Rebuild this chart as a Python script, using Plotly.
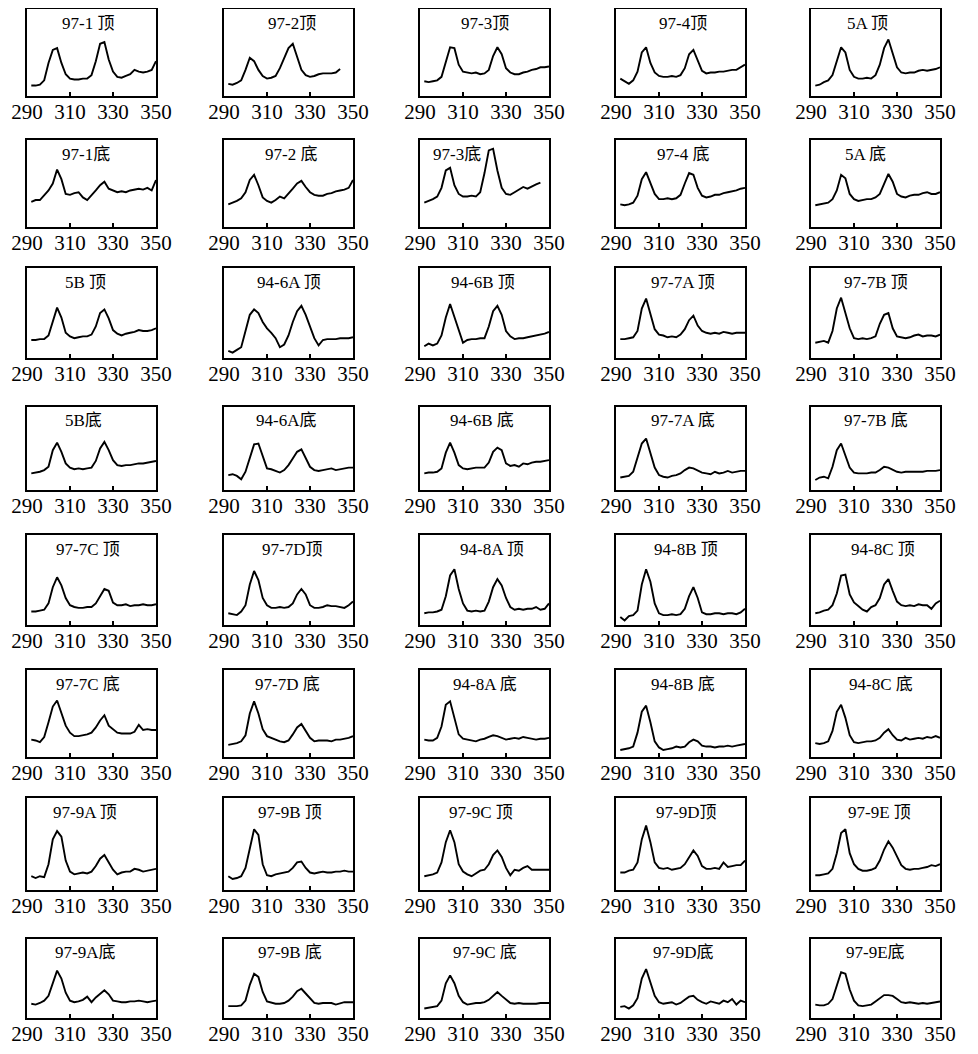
import plotly.graph_objects as go

# ---------------- data ----------------
X = [292, 294, 296, 298, 300, 302, 304, 306, 308, 310, 312, 314, 316, 318, 320,
     322, 324, 326, 328, 330, 332, 334, 336, 338, 340, 342, 344, 346, 348, 350]
X_TICKS = [290, 310, 330, 350]

LABELS = [
    "97-1 顶", "97-2顶", "97-3顶", "97-4顶", "5A 顶",
    "97-1底", "97-2 底", "97-3底", "97-4 底", "5A 底",
    "5B 顶", "94-6A 顶", "94-6B 顶", "97-7A 顶", "97-7B 顶",
    "5B底", "94-6A底", "94-6B 底", "97-7A 底", "97-7B 底",
    "97-7C 顶", "97-7D顶", "94-8A 顶", "94-8B 顶", "94-8C 顶",
    "97-7C 底", "97-7D 底", "94-8A 底", "94-8B 底", "94-8C 底",
    "97-9A 顶", "97-9B 顶", "97-9C 顶", "97-9D顶", "97-9E 顶",
    "97-9A底", "97-9B 底", "97-9C 底", "97-9D底", "97-9E底",
]

y_97_1_top = [12, 12, 13, 18, 38, 53, 55, 38, 25, 20, 19, 19, 20, 20, 24, 40, 60, 62, 42, 28, 22, 21, 23, 25, 30, 28, 27, 28, 30, 40]
y_97_2_top = [14, 13, 15, 18, 30, 44, 40, 30, 23, 20, 21, 23, 32, 44, 55, 60, 45, 30, 24, 22, 23, 25, 26, 26, 26, 27, 31, None, None, None]
y_97_3_top = [17, 16, 17, 18, 22, 40, 56, 55, 36, 28, 27, 26, 27, 25, 26, 30, 46, 56, 48, 32, 27, 25, 25, 27, 28, 30, 31, 33, 33, 34]
y_97_4_top = [20, 17, 14, 18, 28, 50, 56, 38, 27, 23, 22, 22, 23, 22, 24, 32, 48, 53, 40, 29, 26, 27, 27, 28, 28, 29, 30, 30, 33, 36]
y_5a_top = [12, 13, 16, 18, 24, 40, 56, 50, 30, 22, 20, 20, 21, 20, 24, 36, 55, 65, 48, 33, 27, 26, 27, 27, 29, 30, 29, 30, 31, 33]

y_97_1_bot = [29, 31, 31, 36, 42, 50, 66, 55, 38, 37, 39, 40, 34, 31, 36, 42, 48, 52, 44, 42, 40, 41, 40, 42, 43, 44, 43, 45, 42, 54]
y_97_2_bot = [26, 28, 30, 33, 40, 54, 60, 48, 34, 30, 28, 31, 35, 33, 38, 44, 50, 53, 46, 40, 37, 36, 36, 38, 39, 41, 42, 43, 45, 54]
y_97_3_bot = [28, 30, 32, 35, 45, 65, 68, 48, 38, 35, 35, 36, 35, 40, 62, 88, 90, 65, 45, 38, 37, 40, 43, 46, 44, 47, 49, 51, None, None]
y_97_4_bot = [26, 25, 26, 28, 36, 55, 63, 50, 38, 32, 32, 33, 32, 33, 37, 50, 62, 60, 45, 36, 34, 35, 37, 37, 39, 40, 41, 42, 44, 45]
y_5a_bot = [25, 26, 27, 28, 32, 42, 60, 56, 38, 32, 30, 31, 32, 32, 34, 38, 50, 61, 52, 38, 35, 34, 36, 37, 37, 39, 40, 38, 38, 40]

y_5b_top = [20, 20, 21, 21, 25, 42, 56, 45, 28, 24, 22, 23, 24, 24, 26, 35, 50, 54, 44, 31, 27, 25, 27, 28, 29, 31, 30, 30, 31, 33]
y_94_6a_top = [8, 6, 9, 12, 30, 48, 54, 50, 40, 33, 28, 22, 12, 15, 25, 40, 52, 58, 48, 36, 22, 14, 20, 21, 21, 21, 22, 22, 22, 23]
y_94_6b_top = [13, 16, 14, 16, 25, 45, 60, 45, 30, 17, 20, 21, 21, 22, 22, 35, 52, 58, 48, 30, 24, 21, 22, 22, 23, 24, 25, 26, 27, 29]
y_97_7a_top = [21, 21, 22, 23, 30, 55, 66, 48, 32, 26, 25, 23, 24, 23, 26, 32, 42, 47, 36, 30, 28, 27, 28, 27, 29, 28, 27, 28, 28, 28]
y_97_7b_top = [17, 18, 19, 17, 30, 55, 67, 50, 33, 22, 21, 22, 21, 22, 24, 38, 48, 50, 33, 24, 23, 22, 23, 25, 26, 24, 25, 25, 24, 26]

y_5b_bot = [20, 21, 22, 24, 28, 48, 57, 46, 32, 27, 25, 26, 25, 26, 27, 35, 50, 58, 48, 36, 30, 29, 30, 30, 31, 32, 32, 33, 34, 35]
y_94_6a_bot = [18, 19, 17, 13, 22, 38, 55, 56, 40, 26, 25, 23, 21, 24, 30, 38, 46, 49, 38, 28, 24, 23, 24, 25, 26, 24, 25, 26, 27, 27]
y_94_6b_bot = [20, 21, 21, 22, 26, 45, 57, 45, 30, 26, 25, 26, 27, 27, 27, 33, 46, 51, 48, 32, 29, 30, 28, 32, 31, 33, 34, 34, 35, 36]
y_97_7a_bot = [15, 16, 17, 22, 38, 56, 62, 45, 27, 18, 16, 15, 17, 18, 20, 24, 27, 26, 23, 21, 20, 19, 22, 20, 21, 23, 21, 22, 23, 23]
y_97_7b_bot = [12, 15, 16, 14, 28, 48, 56, 42, 27, 21, 20, 20, 20, 21, 21, 24, 28, 27, 24, 22, 21, 22, 22, 22, 22, 22, 23, 23, 23, 24]

y_97_7c_top = [15, 15, 16, 17, 24, 42, 53, 44, 30, 22, 20, 19, 19, 20, 20, 24, 32, 40, 38, 25, 22, 22, 23, 21, 22, 22, 23, 22, 22, 23]
y_97_7d_top = [13, 12, 11, 15, 22, 45, 60, 50, 30, 22, 19, 19, 20, 19, 20, 24, 34, 40, 34, 22, 19, 19, 20, 22, 21, 21, 20, 19, 22, 26]
y_94_8a_top = [13, 14, 14, 15, 17, 32, 55, 62, 40, 24, 16, 15, 16, 15, 16, 26, 42, 51, 44, 30, 20, 17, 18, 17, 18, 18, 20, 17, 18, 24]
y_94_8b_top = [9, 5, 10, 11, 16, 45, 62, 48, 24, 13, 11, 11, 12, 11, 12, 18, 32, 42, 30, 14, 12, 12, 13, 13, 12, 13, 13, 12, 14, 18]
y_94_8c_top = [13, 14, 16, 17, 22, 35, 55, 56, 34, 25, 21, 17, 15, 20, 22, 30, 45, 51, 38, 26, 22, 21, 22, 21, 23, 22, 22, 18, 24, 27]

y_97_7c_bot = [20, 19, 17, 23, 40, 58, 65, 50, 36, 28, 24, 24, 25, 26, 28, 34, 42, 48, 36, 32, 28, 27, 27, 27, 29, 37, 31, 32, 31, 31]
y_97_7d_bot = [14, 15, 16, 18, 25, 50, 64, 50, 32, 24, 22, 20, 18, 17, 19, 26, 34, 38, 30, 22, 18, 19, 19, 19, 18, 20, 20, 21, 22, 24]
y_94_8a_bot = [20, 19, 19, 22, 35, 60, 64, 45, 26, 21, 20, 19, 18, 20, 21, 23, 25, 24, 22, 20, 21, 22, 21, 23, 22, 21, 20, 21, 21, 22]
y_94_8b_bot = [8, 9, 10, 12, 28, 52, 59, 40, 18, 11, 8, 9, 10, 12, 11, 12, 17, 20, 18, 13, 12, 12, 11, 12, 12, 13, 12, 13, 14, 15]
y_94_8c_bot = [16, 15, 16, 18, 30, 52, 60, 45, 25, 17, 16, 17, 18, 18, 19, 22, 28, 32, 25, 20, 19, 22, 20, 21, 22, 21, 23, 22, 24, 22]

y_97_9a_top = [15, 13, 15, 14, 28, 55, 64, 58, 32, 20, 17, 18, 19, 18, 20, 26, 34, 38, 30, 22, 17, 19, 20, 20, 23, 22, 20, 21, 22, 23]
y_97_9b_top = [15, 12, 13, 15, 24, 45, 66, 60, 28, 16, 15, 17, 18, 19, 20, 24, 30, 31, 24, 19, 18, 19, 20, 19, 19, 20, 20, 21, 20, 20]
y_97_9c_top = [15, 16, 17, 19, 30, 52, 65, 52, 28, 20, 17, 15, 18, 21, 22, 28, 38, 43, 36, 24, 16, 22, 21, 24, 26, 22, 22, 22, 22, 22]
y_97_9d_top = [19, 19, 21, 22, 30, 55, 70, 52, 30, 24, 23, 24, 22, 23, 24, 28, 36, 43, 37, 26, 23, 23, 24, 23, 30, 25, 26, 27, 27, 32]
y_97_9e_top = [16, 16, 17, 18, 23, 40, 62, 66, 40, 28, 23, 21, 21, 22, 24, 32, 44, 53, 46, 36, 27, 23, 22, 23, 23, 24, 25, 27, 26, 28]

y_97_9a_bot = [18, 17, 19, 22, 28, 45, 60, 50, 32, 22, 20, 21, 23, 27, 20, 26, 30, 35, 30, 22, 21, 20, 20, 21, 21, 22, 21, 20, 21, 22]
y_97_9b_bot = [15, 15, 15, 16, 22, 42, 56, 52, 33, 21, 19, 18, 18, 19, 22, 27, 34, 37, 31, 25, 19, 18, 19, 19, 19, 17, 19, 20, 20, 20]
y_97_9c_bot = [12, 13, 14, 15, 22, 44, 54, 44, 28, 20, 17, 18, 19, 19, 20, 23, 28, 33, 28, 23, 19, 18, 19, 18, 18, 18, 18, 19, 19, 19]
y_97_9d_bot = [14, 15, 12, 16, 25, 50, 62, 45, 28, 20, 18, 19, 20, 17, 19, 23, 27, 28, 23, 20, 18, 21, 19, 18, 22, 20, 24, 17, 22, 20]
y_97_9e_bot = [17, 16, 16, 18, 24, 42, 58, 56, 36, 22, 16, 15, 16, 17, 21, 25, 29, 29, 28, 24, 20, 19, 20, 19, 18, 19, 18, 19, 20, 21]

SERIES = [
    y_97_1_top, y_97_2_top, y_97_3_top, y_97_4_top, y_5a_top,
    y_97_1_bot, y_97_2_bot, y_97_3_bot, y_97_4_bot, y_5a_bot,
    y_5b_top, y_94_6a_top, y_94_6b_top, y_97_7a_top, y_97_7b_top,
    y_5b_bot, y_94_6a_bot, y_94_6b_bot, y_97_7a_bot, y_97_7b_bot,
    y_97_7c_top, y_97_7d_top, y_94_8a_top, y_94_8b_top, y_94_8c_top,
    y_97_7c_bot, y_97_7d_bot, y_94_8a_bot, y_94_8b_bot, y_94_8c_bot,
    y_97_9a_top, y_97_9b_top, y_97_9c_top, y_97_9d_top, y_97_9e_top,
    y_97_9a_bot, y_97_9b_bot, y_97_9c_bot, y_97_9d_bot, y_97_9e_bot,
]

# ---------------- layout (page pixels of the reference) ----------------
PAGE_MARGIN = 8                      # default <body> margin of the html page
W, H = 978 - 2 * PAGE_MARGIN, 1054 - 2 * PAGE_MARGIN
ROW_TOP = [9, 140, 268, 407, 535, 670, 798, 939]
ROW_BOT = [96, 227, 358, 490, 625, 757, 890, 1018]
COL_LEFT = [27, 224, 420, 616, 811]
COL_W = 129

TITLE_X = [
    0.47, 0.53, 0.50, 0.52, 0.44,
    0.46, 0.52, 0.29, 0.52, 0.42,
    0.45, 0.50, 0.49, 0.52, 0.50,
    0.44, 0.48, 0.48, 0.52, 0.50,
    0.47, 0.53, 0.56, 0.54, 0.56,
    0.47, 0.49, 0.50, 0.52, 0.54,
    0.45, 0.51, 0.47, 0.54, 0.53,
    0.45, 0.51, 0.50, 0.52, 0.50,
]

FONT = "Liberation Serif, Times New Roman, Noto Sans CJK SC, serif"


def clamp(v):
    return max(0.0, min(1.0, v))


fig = go.Figure()
layout = dict(
    width=W, height=H, autosize=False,
    margin=dict(l=0, r=0, t=0, b=0, pad=0),
    paper_bgcolor="white", plot_bgcolor="white",
    showlegend=False,
    font=dict(family=FONT, color="black"),
)
annotations = []

for i, ys in enumerate(SERIES):
    r, c = divmod(i, 5)
    n = i + 1
    sfx = "" if n == 1 else str(n)
    x0 = clamp((COL_LEFT[c] - PAGE_MARGIN) / W)
    x1 = clamp((COL_LEFT[c] + COL_W - PAGE_MARGIN) / W)
    y0 = clamp(1 - (ROW_BOT[r] - PAGE_MARGIN) / H)
    y1 = clamp(1 - (ROW_TOP[r] - PAGE_MARGIN) / H)
    fig.add_trace(go.Scatter(
        x=X, y=ys, mode="lines",
        line=dict(color="black", width=1.9),
        xaxis="x" + sfx, yaxis="y" + sfx,
        showlegend=False, hoverinfo="skip",
    ))
    layout["xaxis" + sfx] = dict(
        domain=[x0, x1], anchor="y" + sfx, range=[290, 350],
        automargin=False,
        tickvals=X_TICKS, ticks="inside", ticklen=4, tickwidth=1.5,
        tickcolor="black", showgrid=False, zeroline=False,
        showline=True, mirror=True, linecolor="black", linewidth=1.6,
        tickfont=dict(family=FONT, size=21, color="black"),
        ticklabelstandoff=-4,
        fixedrange=True,
    )
    layout["yaxis" + sfx] = dict(
        domain=[y0, y1], anchor="x" + sfx, range=[0, 100],
        automargin=False,
        showticklabels=False, ticks="", showgrid=False, zeroline=False,
        showline=True, mirror=True, linecolor="black", linewidth=1.6,
        fixedrange=True,
    )
    annotations.append(dict(
        text=LABELS[i], xref="x" + sfx + " domain", yref="y" + sfx + " domain",
        x=TITLE_X[i], y=0.97, xanchor="center", yanchor="top",
        showarrow=False, font=dict(family=FONT, size=17, color="black"),
    ))

layout["annotations"] = annotations
fig.update_layout(**layout)
fig.write_html("out.html")
